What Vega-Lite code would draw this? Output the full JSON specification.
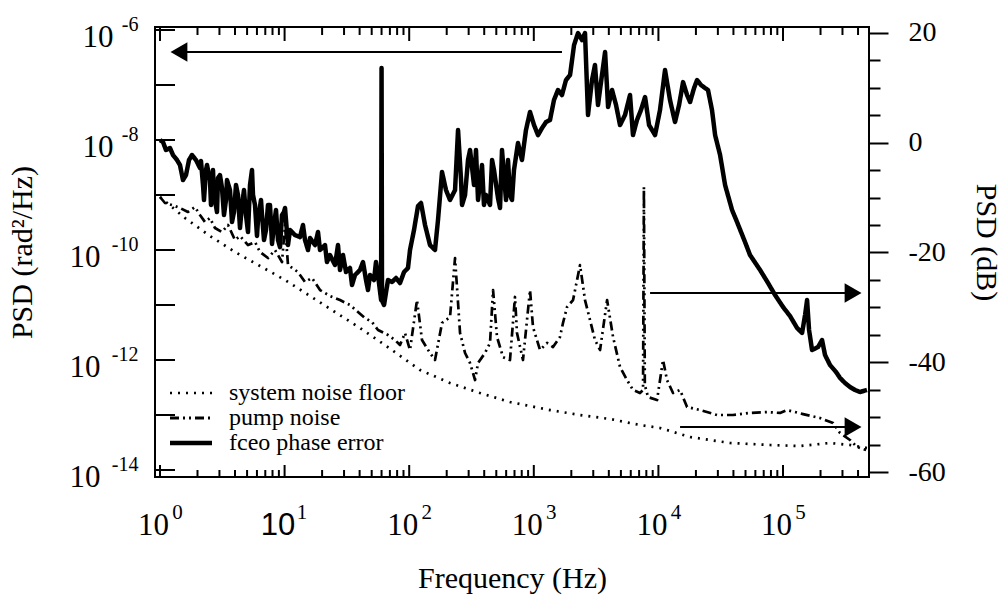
{
"$schema": "https://vega.github.io/schema/vega-lite/v6.json",
"width": 714, "height": 450,
"autosize": {"type": "none"},
"padding": {"left": 155, "top": 27, "right": 133, "bottom": 126},
"background": "white",
"config": {
  "view": {"stroke": "black", "strokeWidth": 2},
  "axis": {"domain": false, "grid": false, "tickColor": "black", "tickWidth": 2, "labelFont": "Liberation Serif", "labelColor": "black", "labelFontSize": 31, "titleFont": "Liberation Serif", "titleFontWeight": "normal", "titleColor": "black", "titleFontSize": 30, "labelOverlap": false, "labelFlush": false}
},
"datasets": {
  "curves": [
{"s":"fceo phase error","f":1,"p":1e-8},{"s":"fceo phase error","f":1.057,"p":9.2e-9},{"s":"fceo phase error","f":1.117,"p":6.58e-9},{"s":"fceo phase error","f":1.203,"p":7.16e-9},{"s":"fceo phase error","f":1.272,"p":5.34e-9},{"s":"fceo phase error","f":1.369,"p":4.33e-9},{"s":"fceo phase error","f":1.447,"p":3.51e-9},{"s":"fceo phase error","f":1.53,"p":1.87e-9},{"s":"fceo phase error","f":1.617,"p":2.31e-9},{"s":"fceo phase error","f":1.71,"p":4.33e-9},{"s":"fceo phase error","f":1.806,"p":5.34e-9},{"s":"fceo phase error","f":1.945,"p":4.33e-9},{"s":"fceo phase error","f":2.094,"p":3.1e-9},{"s":"fceo phase error","f":2.133,"p":4.15e-9},{"s":"fceo phase error","f":2.214,"p":1.52e-9},{"s":"fceo phase error","f":2.255,"p":8.11e-10},{"s":"fceo phase error","f":2.34,"p":2.85e-9},{"s":"fceo phase error","f":2.384,"p":3.51e-9},{"s":"fceo phase error","f":2.519,"p":1.87e-9},{"s":"fceo phase error","f":2.567,"p":6.58e-10},{"s":"fceo phase error","f":2.663,"p":2.85e-9},{"s":"fceo phase error","f":2.713,"p":1e-9},{"s":"fceo phase error","f":2.867,"p":4.91e-10},{"s":"fceo phase error","f":2.921,"p":2.04e-9},{"s":"fceo phase error","f":3.03,"p":2.31e-9},{"s":"fceo phase error","f":3.145,"p":1.34e-9},{"s":"fceo phase error","f":3.264,"p":4.33e-10},{"s":"fceo phase error","f":3.386,"p":8.11e-10},{"s":"fceo phase error","f":3.45,"p":1.87e-9},{"s":"fceo phase error","f":3.646,"p":1.23e-9},{"s":"fceo phase error","f":3.784,"p":3.23e-10},{"s":"fceo phase error","f":3.926,"p":4.91e-10},{"s":"fceo phase error","f":4.074,"p":1.52e-9},{"s":"fceo phase error","f":4.227,"p":1e-9},{"s":"fceo phase error","f":4.387,"p":2.51e-10},{"s":"fceo phase error","f":4.551,"p":6.58e-10},{"s":"fceo phase error","f":4.723,"p":1.23e-9},{"s":"fceo phase error","f":4.9,"p":4.33e-10},{"s":"fceo phase error","f":5.086,"p":2.12e-10},{"s":"fceo phase error","f":5.277,"p":1.52e-9},{"s":"fceo phase error","f":5.476,"p":2.85e-9},{"s":"fceo phase error","f":5.578,"p":1e-9},{"s":"fceo phase error","f":5.788,"p":6.58e-10},{"s":"fceo phase error","f":6.005,"p":1.8e-10},{"s":"fceo phase error","f":6.116,"p":3.51e-10},{"s":"fceo phase error","f":6.466,"p":8.11e-10},{"s":"fceo phase error","f":6.589,"p":4.33e-10},{"s":"fceo phase error","f":6.835,"p":1.52e-10},{"s":"fceo phase error","f":7.093,"p":2.31e-10},{"s":"fceo phase error","f":7.359,"p":6.58e-10},{"s":"fceo phase error","f":7.637,"p":6.58e-10},{"s":"fceo phase error","f":7.924,"p":1.29e-10},{"s":"fceo phase error","f":8.222,"p":2.85e-10},{"s":"fceo phase error","f":8.531,"p":5.34e-10},{"s":"fceo phase error","f":8.853,"p":1.52e-10},{"s":"fceo phase error","f":9.186,"p":1.13e-10},{"s":"fceo phase error","f":9.532,"p":4.33e-10},{"s":"fceo phase error","f":9.89,"p":4.91e-10},{"s":"fceo phase error","f":10.08,"p":5.81e-10},{"s":"fceo phase error","f":10.65,"p":1.23e-10},{"s":"fceo phase error","f":11.05,"p":2.31e-10},{"s":"fceo phase error","f":12.12,"p":1.87e-10},{"s":"fceo phase error","f":13.29,"p":1.72e-10},{"s":"fceo phase error","f":14.05,"p":2.85e-10},{"s":"fceo phase error","f":14.58,"p":1.52e-10},{"s":"fceo phase error","f":15.41,"p":1e-10},{"s":"fceo phase error","f":16.0,"p":1.65e-10},{"s":"fceo phase error","f":17.54,"p":1.23e-10},{"s":"fceo phase error","f":18.54,"p":2.12e-10},{"s":"fceo phase error","f":19.24,"p":1e-10},{"s":"fceo phase error","f":21.1,"p":1.23e-10},{"s":"fceo phase error","f":21.88,"p":6.05e-11},{"s":"fceo phase error","f":23.14,"p":8.11e-11},{"s":"fceo phase error","f":25.39,"p":5.34e-11},{"s":"fceo phase error","f":26.83,"p":1.23e-10},{"s":"fceo phase error","f":27.84,"p":4.33e-11},{"s":"fceo phase error","f":29.43,"p":8.11e-11},{"s":"fceo phase error","f":31.11,"p":3.98e-11},{"s":"fceo phase error","f":33.49,"p":4.71e-11},{"s":"fceo phase error","f":34.75,"p":2.31e-11},{"s":"fceo phase error","f":36.74,"p":3.51e-11},{"s":"fceo phase error","f":40.29,"p":4.33e-11},{"s":"fceo phase error","f":42.59,"p":6.05e-11},{"s":"fceo phase error","f":45.02,"p":2.85e-11},{"s":"fceo phase error","f":46.7,"p":1.87e-11},{"s":"fceo phase error","f":48.47,"p":3.51e-11},{"s":"fceo phase error","f":52.2,"p":2.85e-11},{"s":"fceo phase error","f":54.15,"p":6.05e-11},{"s":"fceo phase error","f":56.2,"p":3.51e-11},{"s":"fceo phase error","f":59.5,"p":1.23e-11},{"s":"fceo phase error","f":60,"p":2.04e-7},{"s":"fceo phase error","f":60.5,"p":1.2e-11},{"s":"fceo phase error","f":62.8,"p":1e-11},{"s":"fceo phase error","f":67.6,"p":2.85e-11},{"s":"fceo phase error","f":72.8,"p":2.62e-11},{"s":"fceo phase error","f":78.4,"p":3.1e-11},{"s":"fceo phase error","f":84.4,"p":2.51e-11},{"s":"fceo phase error","f":90.9,"p":3.98e-11},{"s":"fceo phase error","f":97.8,"p":4.71e-11},{"s":"fceo phase error","f":101.5,"p":1e-10},{"s":"fceo phase error","f":109.3,"p":2.31e-10},{"s":"fceo phase error","f":117.7,"p":6.31e-10},{"s":"fceo phase error","f":124.4,"p":7.16e-10},{"s":"fceo phase error","f":134,"p":2.85e-10},{"s":"fceo phase error","f":146.9,"p":1.23e-10},{"s":"fceo phase error","f":161.1,"p":1e-10},{"s":"fceo phase error","f":170.3,"p":3.51e-10},{"s":"fceo phase error","f":183.4,"p":2.62e-9},{"s":"fceo phase error","f":197.4,"p":1.23e-9},{"s":"fceo phase error","f":212.6,"p":8.11e-10},{"s":"fceo phase error","f":233.3,"p":1.23e-9},{"s":"fceo phase error","f":246.6,"p":1.52e-8},{"s":"fceo phase error","f":260.7,"p":1.87e-9},{"s":"fceo phase error","f":265.5,"p":6.58e-10},{"s":"fceo phase error","f":280.7,"p":1e-9},{"s":"fceo phase error","f":296.5,"p":4.33e-9},{"s":"fceo phase error","f":307.8,"p":6.58e-9},{"s":"fceo phase error","f":331.4,"p":1.52e-9},{"s":"fceo phase error","f":343.6,"p":6.58e-9},{"s":"fceo phase error","f":356.8,"p":8.11e-10},{"s":"fceo phase error","f":384.1,"p":3.51e-9},{"s":"fceo phase error","f":398.1,"p":6.58e-10},{"s":"fceo phase error","f":413.5,"p":1e-9},{"s":"fceo phase error","f":445.2,"p":6.58e-10},{"s":"fceo phase error","f":462.4,"p":4.33e-9},{"s":"fceo phase error","f":479.3,"p":2.85e-9},{"s":"fceo phase error","f":516,"p":8.81e-10},{"s":"fceo phase error","f":535.8,"p":5.81e-10},{"s":"fceo phase error","f":555.6,"p":6.58e-9},{"s":"fceo phase error","f":598.2,"p":8.11e-10},{"s":"fceo phase error","f":620.9,"p":4.33e-9},{"s":"fceo phase error","f":644,"p":1e-9},{"s":"fceo phase error","f":668.4,"p":8.11e-10},{"s":"fceo phase error","f":693.4,"p":2.85e-9},{"s":"fceo phase error","f":746.5,"p":8.81e-9},{"s":"fceo phase error","f":803.6,"p":4.33e-9},{"s":"fceo phase error","f":865.2,"p":1.52e-8},{"s":"fceo phase error","f":932.5,"p":3.23e-8},{"s":"fceo phase error","f":1004,"p":1.87e-8},{"s":"fceo phase error","f":1081,"p":1.23e-8},{"s":"fceo phase error","f":1164,"p":1.65e-8},{"s":"fceo phase error","f":1253,"p":2.12e-8},{"s":"fceo phase error","f":1349,"p":2.31e-8},{"s":"fceo phase error","f":1452,"p":5.34e-8},{"s":"fceo phase error","f":1563,"p":8.11e-8},{"s":"fceo phase error","f":1683,"p":6.58e-8},{"s":"fceo phase error","f":1812,"p":1.23e-7},{"s":"fceo phase error","f":1954,"p":1.52e-7},{"s":"fceo phase error","f":2104,"p":5.34e-7},{"s":"fceo phase error","f":2265,"p":8.81e-7},{"s":"fceo phase error","f":2438,"p":6.58e-7},{"s":"fceo phase error","f":2576,"p":8.81e-7},{"s":"fceo phase error","f":2723,"p":2.85e-8},{"s":"fceo phase error","f":2931,"p":1.23e-7},{"s":"fceo phase error","f":3097,"p":2.31e-7},{"s":"fceo phase error","f":3275,"p":4.33e-8},{"s":"fceo phase error","f":3524,"p":1.52e-7},{"s":"fceo phase error","f":3733,"p":3.98e-7},{"s":"fceo phase error","f":3945,"p":3.98e-8},{"s":"fceo phase error","f":4246,"p":8.11e-8},{"s":"fceo phase error","f":4571,"p":4.33e-8},{"s":"fceo phase error","f":4920,"p":1.87e-8},{"s":"fceo phase error","f":5395,"p":2.85e-8},{"s":"fceo phase error","f":5918,"p":6.58e-8},{"s":"fceo phase error","f":6252,"p":1.23e-8},{"s":"fceo phase error","f":6730,"p":2.31e-8},{"s":"fceo phase error","f":7244,"p":3.51e-8},{"s":"fceo phase error","f":7816,"p":6.05e-8},{"s":"fceo phase error","f":8414,"p":1.87e-8},{"s":"fceo phase error","f":9398,"p":1.23e-8},{"s":"fceo phase error","f":10300,"p":3.51e-8},{"s":"fceo phase error","f":11300,"p":1.87e-7},{"s":"fceo phase error","f":12390,"p":5.34e-8},{"s":"fceo phase error","f":13590,"p":2.12e-8},{"s":"fceo phase error","f":14650,"p":4.33e-8},{"s":"fceo phase error","f":15770,"p":1.13e-7},{"s":"fceo phase error","f":16980,"p":6.58e-8},{"s":"fceo phase error","f":17950,"p":4.91e-8},{"s":"fceo phase error","f":19320,"p":8.81e-8},{"s":"fceo phase error","f":20420,"p":1.23e-7},{"s":"fceo phase error","f":21980,"p":1e-7},{"s":"fceo phase error","f":23660,"p":8.81e-8},{"s":"fceo phase error","f":25000,"p":8.11e-8},{"s":"fceo phase error","f":26920,"p":3.51e-8},{"s":"fceo phase error","f":28510,"p":1.23e-8},{"s":"fceo phase error","f":31260,"p":5.34e-9},{"s":"fceo phase error","f":34280,"p":1.52e-9},{"s":"fceo phase error","f":39000,"p":5.34e-10},{"s":"fceo phase error","f":42760,"p":3.23e-10},{"s":"fceo phase error","f":49550,"p":1.4e-10},{"s":"fceo phase error","f":54330,"p":8.11e-11},{"s":"fceo phase error","f":65460,"p":4.33e-11},{"s":"fceo phase error","f":75860,"p":2.51e-11},{"s":"fceo phase error","f":86300,"p":1.52e-11},{"s":"fceo phase error","f":100000,"p":9.2e-12},{"s":"fceo phase error","f":113800,"p":6.31e-12},{"s":"fceo phase error","f":129700,"p":3.82e-12},{"s":"fceo phase error","f":142200,"p":3.1e-12},{"s":"fceo phase error","f":150300,"p":6.58e-12},{"s":"fceo phase error","f":156000,"p":1.23e-11},{"s":"fceo phase error","f":161800,"p":3.51e-12},{"s":"fceo phase error","f":171000,"p":1.52e-12},{"s":"fceo phase error","f":191000,"p":1.72e-12},{"s":"fceo phase error","f":205700,"p":2.31e-12},{"s":"fceo phase error","f":217400,"p":1.23e-12},{"s":"fceo phase error","f":238400,"p":8.11e-13},{"s":"fceo phase error","f":266400,"p":6.05e-13},{"s":"fceo phase error","f":286800,"p":4.71e-13},{"s":"fceo phase error","f":314500,"p":3.82e-13},{"s":"fceo phase error","f":344900,"p":3.23e-13},{"s":"fceo phase error","f":378300,"p":2.85e-13},{"s":"fceo phase error","f":414900,"p":2.62e-13},{"s":"fceo phase error","f":472000,"p":2.85e-13},
{"s":"pump noise","f":1,"p":9.2e-10},{"s":"pump noise","f":1.097,"p":7.16e-10},{"s":"pump noise","f":1.248,"p":6.58e-10},{"s":"pump noise","f":1.447,"p":5.81e-10},{"s":"pump noise","f":1.678,"p":4.91e-10},{"s":"pump noise","f":1.909,"p":6.05e-10},{"s":"pump noise","f":2.094,"p":4.33e-10},{"s":"pump noise","f":2.297,"p":3.23e-10},{"s":"pump noise","f":2.519,"p":3.82e-10},{"s":"pump noise","f":2.764,"p":2.51e-10},{"s":"pump noise","f":3.145,"p":2.12e-10},{"s":"pump noise","f":3.515,"p":2.85e-10},{"s":"pump noise","f":4.0,"p":1.52e-10},{"s":"pump noise","f":4.387,"p":1.8e-10},{"s":"pump noise","f":5.086,"p":1.23e-10},{"s":"pump noise","f":5.788,"p":1.4e-10},{"s":"pump noise","f":6.347,"p":9.2e-11},{"s":"pump noise","f":7.359,"p":7.16e-11},{"s":"pump noise","f":8.375,"p":1e-10},{"s":"pump noise","f":9.532,"p":6.05e-11},{"s":"pump noise","f":10.08,"p":2.85e-10},{"s":"pump noise","f":10.65,"p":5.34e-11},{"s":"pump noise","f":12.81,"p":3.98e-11},{"s":"pump noise","f":14.58,"p":2.62e-11},{"s":"pump noise","f":16.59,"p":3.1e-11},{"s":"pump noise","f":19.24,"p":1.87e-11},{"s":"pump noise","f":23.14,"p":1.46e-11},{"s":"pump noise","f":27.84,"p":1.23e-11},{"s":"pump noise","f":33.49,"p":1e-11},{"s":"pump noise","f":38.82,"p":7.46e-12},{"s":"pump noise","f":44.18,"p":5.81e-12},{"s":"pump noise","f":50.29,"p":4.91e-12},{"s":"pump noise","f":56.2,"p":3.51e-12},{"s":"pump noise","f":67.6,"p":2.85e-12},{"s":"pump noise","f":76.9,"p":2.31e-12},{"s":"pump noise","f":84.4,"p":1.87e-12},{"s":"pump noise","f":92.5,"p":3.1e-12},{"s":"pump noise","f":101.5,"p":1.52e-12},{"s":"pump noise","f":115.5,"p":1.23e-11},{"s":"pump noise","f":126.7,"p":2.31e-12},{"s":"pump noise","f":146.9,"p":1.34e-12},{"s":"pump noise","f":161.1,"p":1e-12},{"s":"pump noise","f":183.4,"p":4.71e-12},{"s":"pump noise","f":212.6,"p":6.05e-12},{"s":"pump noise","f":233.3,"p":7.16e-11},{"s":"pump noise","f":246.6,"p":1.09e-11},{"s":"pump noise","f":255.9,"p":3.1e-12},{"s":"pump noise","f":280.7,"p":1.34e-12},{"s":"pump noise","f":307.8,"p":8.81e-13},{"s":"pump noise","f":337.6,"p":4.33e-13},{"s":"pump noise","f":356.8,"p":8.81e-13},{"s":"pump noise","f":405.7,"p":1.34e-12},{"s":"pump noise","f":445.2,"p":2.04e-12},{"s":"pump noise","f":470.9,"p":1.87e-11},{"s":"pump noise","f":506.7,"p":2.62e-12},{"s":"pump noise","f":566.1,"p":1.13e-12},{"s":"pump noise","f":644,"p":1e-12},{"s":"pump noise","f":706.3,"p":1.4e-11},{"s":"pump noise","f":733,"p":3.1e-12},{"s":"pump noise","f":818.6,"p":1e-12},{"s":"pump noise","f":932.5,"p":1.87e-11},{"s":"pump noise","f":985.1,"p":3.98e-12},{"s":"pump noise","f":1122,"p":1.52e-12},{"s":"pump noise","f":1277,"p":2.04e-12},{"s":"pump noise","f":1426,"p":1.72e-12},{"s":"pump noise","f":1622,"p":2.62e-12},{"s":"pump noise","f":1715,"p":4.71e-12},{"s":"pump noise","f":1848,"p":9.2e-12},{"s":"pump noise","f":2065,"p":1.23e-11},{"s":"pump noise","f":2350,"p":5.34e-11},{"s":"pump noise","f":2576,"p":1.23e-11},{"s":"pump noise","f":2825,"p":5.34e-12},{"s":"pump noise","f":3097,"p":2.31e-12},{"s":"pump noise","f":3402,"p":1.52e-12},{"s":"pump noise","f":3873,"p":1.23e-11},{"s":"pump noise","f":4325,"p":2.62e-12},{"s":"pump noise","f":4920,"p":7.46e-13},{"s":"pump noise","f":5598,"p":4.33e-13},{"s":"pump noise","f":6252,"p":2.85e-13},{"s":"pump noise","f":7112,"p":2.51e-13},{"s":"pump noise","f":7528,"p":2.85e-13},{"s":"pump noise","f":7650,"p":1.4e-9},{"s":"pump noise","f":7780,"p":3.5e-13},{"s":"pump noise","f":8260,"p":2.12e-13},{"s":"pump noise","f":9750,"p":1.87e-13},{"s":"pump noise","f":10890,"p":1e-12},{"s":"pump noise","f":11720,"p":4.33e-13},{"s":"pump noise","f":13100,"p":2.51e-13},{"s":"pump noise","f":14920,"p":2.85e-13},{"s":"pump noise","f":16980,"p":1.4e-13},{"s":"pump noise","f":21600,"p":1.23e-13},{"s":"pump noise","f":29560,"p":1e-13},{"s":"pump noise","f":39720,"p":1e-13},{"s":"pump noise","f":54330,"p":1.09e-13},{"s":"pump noise","f":74450,"p":1.13e-13},{"s":"pump noise","f":94620,"p":1.09e-13},{"s":"pump noise","f":107700,"p":1.23e-13},{"s":"pump noise","f":144900,"p":1.04e-13},{"s":"pump noise","f":198200,"p":8.81e-14},{"s":"pump noise","f":252200,"p":7.16e-14},{"s":"pump noise","f":286800,"p":4.71e-14},{"s":"pump noise","f":344900,"p":3.51e-14},{"s":"pump noise","f":392800,"p":2.62e-14},{"s":"pump noise","f":464200,"p":2.31e-14},
{"s":"system noise floor","f":1,"p":9.2e-10},{"s":"system noise floor","f":1.587,"p":3.82e-10},{"s":"system noise floor","f":2.519,"p":1.8e-10},{"s":"system noise floor","f":4.0,"p":9.2e-11},{"s":"system noise floor","f":6.347,"p":5.12e-11},{"s":"system noise floor","f":10.08,"p":2.85e-11},{"s":"system noise floor","f":16.0,"p":1.46e-11},{"s":"system noise floor","f":25.39,"p":7.46e-12},{"s":"system noise floor","f":40.29,"p":3.82e-12},{"s":"system noise floor","f":63.9,"p":1.87e-12},{"s":"system noise floor","f":122.1,"p":6.58e-13},{"s":"system noise floor","f":212.6,"p":3.82e-13},{"s":"system noise floor","f":370.3,"p":2.51e-13},{"s":"system noise floor","f":644,"p":1.72e-13},{"s":"system noise floor","f":1349,"p":1.23e-13},{"s":"system noise floor","f":2350,"p":1e-13},{"s":"system noise floor","f":4093,"p":8.46e-14},{"s":"system noise floor","f":7112,"p":6.58e-14},{"s":"system noise floor","f":10300,"p":5.81e-14},{"s":"system noise floor","f":17950,"p":3.98e-14},{"s":"system noise floor","f":37580,"p":3.1e-14},{"s":"system noise floor","f":78700,"p":2.85e-14},{"s":"system noise floor","f":137100,"p":2.73e-14},{"s":"system noise floor","f":238400,"p":3.1e-14},{"s":"system noise floor","f":344900,"p":2.85e-14},{"s":"system noise floor","f":472000,"p":2.51e-14}
  ],
  "dummy": [{"f": 10, "db": 0, "p": 1e-10}],
  "xmajor": [{"v":1},{"v":10},{"v":100},{"v":1000},{"v":10000},{"v":100000}],
  "xminor": [{"v":2},{"v":3},{"v":4},{"v":5},{"v":6},{"v":7},{"v":8},{"v":9},
    {"v":20},{"v":30},{"v":40},{"v":50},{"v":60},{"v":70},{"v":80},{"v":90},
    {"v":200},{"v":300},{"v":400},{"v":500},{"v":600},{"v":700},{"v":800},{"v":900},
    {"v":2000},{"v":3000},{"v":4000},{"v":5000},{"v":6000},{"v":7000},{"v":8000},{"v":9000},
    {"v":20000},{"v":30000},{"v":40000},{"v":50000},{"v":60000},{"v":70000},{"v":80000},{"v":90000},
    {"v":200000},{"v":300000},{"v":400000}],
  "yticks": [{"v":1e-14},{"v":1e-13},{"v":1e-12},{"v":1e-11},{"v":1e-10},{"v":1e-9},{"v":1e-8},{"v":1e-7},{"v":1e-6}],
  "arrows": [{"f1": 1.42, "f2": 1683, "p": 3.98e-7}, {"f1": 8570, "f2": 365000, "p": 1.65e-11}, {"f1": 14920, "f2": 365000, "p": 6.05e-14}],
  "heads": [{"f": 1.42, "p": 3.98e-7, "d": "l"}, {"f": 365000, "p": 1.65e-11, "d": "r"}, {"f": 365000, "p": 6.05e-14, "d": "r"}]
},
"resolve": {"scale": {"y": "independent"}, "axis": {"x": "independent", "y": "independent"}},
"layer": [
  {
    "data": {"name": "curves"},
    "mark": {"type": "line", "stroke": "black", "strokeJoin": "round", "clip": true},
    "encoding": {
      "x": {"field": "f", "type": "quantitative", "scale": {"type": "log", "domain": [0.912, 489800], "nice": false},
        "axis": {"orient": "bottom", "values": [1, 10, 100, 1000, 10000, 100000], "ticks": false, "labelPadding": 33, "labelOffset": -7,
          "labelExpr": "'10'", "labelFont": {"condition": {"test": "datum.value == 10", "value": "Liberation Sans"}, "value": "Liberation Serif"},
          "title": "Frequency (Hz)", "titleY": 101, "titleBaseline": "middle"}},
      "y": {"field": "p", "type": "quantitative", "scale": {"type": "log", "domain": [7.46e-15, 1.135e-6], "nice": false},
        "axis": {"orient": "left", "values": [1e-8, 1e-6], "ticks": false, "labelPadding": 42, "labelOffset": 7,
          "labelExpr": "'10'", "title": "PSD (rad²/Hz)", "titleX": -133, "titleBaseline": "middle"}},
      "strokeDash": {"field": "s", "type": "nominal",
        "scale": {"domain": ["system noise floor", "pump noise", "fceo phase error"], "range": [[2, 6], [9, 4, 2, 4, 2, 4], [1, 0]]},
        "legend": {"title": null, "orient": "none", "legendX": 10, "legendY": 354, "padding": 0, "labelFont": "Liberation Serif", "labelFontSize": 24, "labelColor": "black", "labelLimit": 0,
          "symbolType": "M-1,0H5", "symbolSize": 196, "symbolStrokeColor": "black", "symbolStrokeWidth": 3, "labelOffset": 40, "rowPadding": 1,
          "encode": {"symbols": {"update": {"strokeWidth": {"signal": "datum.value === 'fceo phase error' ? 4.5 : datum.value === 'pump noise' ? 3 : 2.5"}}}}}},
      "strokeWidth": {"condition": {"test": "datum.s === 'fceo phase error'", "value": 4.5}, "value": 2.7}
    }
  },
  {
    "data": {"name": "dummy"},
    "mark": {"type": "point", "opacity": 0},
    "encoding": {
      "x": {"field": "f", "type": "quantitative", "scale": {"type": "log", "domain": [0.912, 489800], "nice": false}, "axis": null},
      "y": {"field": "db", "type": "quantitative", "scale": {"domain": [-60.91, 21.09], "nice": false, "zero": false},
        "axis": {"orient": "right", "values": [-60, -40, -20, 0, 20], "tickSize": 19, "labelPadding": 20, "labelFontSize": 28, "labelExpr": "'' + datum.value", "title": "PSD (dB)", "titleX": 116, "titleY": 215, "titleBaseline": "middle"}}
    }
  },
  {
    "data": {"name": "dummy"},
    "mark": {"type": "point", "opacity": 0},
    "encoding": {
      "x": {"field": "f", "type": "quantitative", "scale": {"type": "log", "domain": [0.912, 489800], "nice": false}, "axis": null},
      "y": {"field": "db", "type": "quantitative", "scale": {"domain": [-60.91, 21.09], "nice": false, "zero": false},
        "axis": {"orient": "right", "values": [-55, -50, -45, -35, -30, -25, -15, -10, -5, 5, 10, 15], "tickSize": 11, "labels": false, "title": null}}
    }
  },
  {
    "data": {"name": "dummy"},
    "mark": {"type": "point", "opacity": 0},
    "encoding": {
      "x": {"field": "f", "type": "quantitative", "scale": {"type": "log", "domain": [0.912, 489800], "nice": false}, "axis": null},
      "y": {"field": "p", "type": "quantitative", "scale": {"type": "log", "domain": [7.46e-15, 1.135e-6], "nice": false},
        "axis": {"orient": "left", "values": [1e-14, 1e-12, 1e-10], "ticks": false, "labelPadding": 55, "labelOffset": 7, "labelExpr": "'10'", "title": null}}
    }
  },
  {
    "data": {"name": "dummy"},
    "mark": {"type": "point", "opacity": 0},
    "encoding": {
      "x": {"field": "f", "type": "quantitative", "scale": {"type": "log", "domain": [0.912, 489800], "nice": false},
        "axis": {"orient": "bottom", "values": [1, 10, 100, 1000, 10000, 100000], "ticks": false, "labelPadding": 24, "labelOffset": 17, "labelFontSize": 21,
          "labelExpr": "'' + round(log(datum.value)/LN10)", "title": null}},
      "y": {"field": "p", "type": "quantitative", "scale": {"type": "log", "domain": [7.46e-15, 1.135e-6], "nice": false},
        "axis": {"orient": "left", "values": [1e-14, 1e-12, 1e-10, 1e-8, 1e-6], "ticks": false, "labelPadding": 17, "labelOffset": -6, "labelFontSize": 20,
          "labelExpr": "'-' + abs(round(log(datum.value)/LN10))", "title": null}}
    }
  },
  {
    "data": {"name": "xmajor"},
    "mark": {"type": "rule", "stroke": "black", "strokeWidth": 2},
    "encoding": {
      "x": {"field": "v", "type": "quantitative", "scale": {"type": "log", "domain": [0.912, 489800], "nice": false}, "axis": null},
      "y": {"datum": 7.46e-15, "type": "quantitative", "scale": {"type": "log", "domain": [7.46e-15, 1.135e-6], "nice": false}, "axis": null},
      "y2": {"datum": 1.233e-14}
    }
  },
  {
    "data": {"name": "xminor"},
    "mark": {"type": "rule", "stroke": "black", "strokeWidth": 2},
    "encoding": {
      "x": {"field": "v", "type": "quantitative", "scale": {"type": "log", "domain": [0.912, 489800], "nice": false}, "axis": null},
      "y": {"datum": 7.46e-15, "type": "quantitative", "scale": {"type": "log", "domain": [7.46e-15, 1.135e-6], "nice": false}, "axis": null},
      "y2": {"datum": 1.0e-14}
    }
  },
  {
    "data": {"name": "xmajor"},
    "mark": {"type": "rule", "stroke": "black", "strokeWidth": 2},
    "encoding": {
      "x": {"field": "v", "type": "quantitative", "scale": {"type": "log", "domain": [0.912, 489800], "nice": false}, "axis": null},
      "y": {"datum": 1.135e-6, "type": "quantitative", "scale": {"type": "log", "domain": [7.46e-15, 1.135e-6], "nice": false}, "axis": null},
      "y2": {"datum": 6.32e-7}
    }
  },
  {
    "data": {"name": "xminor"},
    "mark": {"type": "rule", "stroke": "black", "strokeWidth": 2},
    "encoding": {
      "x": {"field": "v", "type": "quantitative", "scale": {"type": "log", "domain": [0.912, 489800], "nice": false}, "axis": null},
      "y": {"datum": 1.135e-6, "type": "quantitative", "scale": {"type": "log", "domain": [7.46e-15, 1.135e-6], "nice": false}, "axis": null},
      "y2": {"datum": 8.12e-7}
    }
  },
  {
    "data": {"name": "yticks"},
    "mark": {"type": "rule", "stroke": "black", "strokeWidth": 2},
    "encoding": {
      "x": {"datum": 0.912, "type": "quantitative", "scale": {"type": "log", "domain": [0.912, 489800], "nice": false}, "axis": null},
      "x2": {"datum": 1.32},
      "y": {"field": "v", "type": "quantitative", "scale": {"type": "log", "domain": [7.46e-15, 1.135e-6], "nice": false}, "axis": null}
    }
  },
  {
    "data": {"name": "arrows"},
    "mark": {"type": "rule", "stroke": "black", "strokeWidth": 2},
    "encoding": {
      "x": {"field": "f1", "type": "quantitative", "scale": {"type": "log", "domain": [0.912, 489800], "nice": false}, "axis": null},
      "x2": {"field": "f2"},
      "y": {"field": "p", "type": "quantitative", "scale": {"type": "log", "domain": [7.46e-15, 1.135e-6], "nice": false}, "axis": null}
    }
  },
  {
    "data": {"name": "heads"},
    "mark": {"type": "point", "filled": true, "color": "black", "opacity": 1, "size": 380, "strokeWidth": 0},
    "encoding": {
      "x": {"field": "f", "type": "quantitative", "scale": {"type": "log", "domain": [0.912, 489800], "nice": false}, "axis": null},
      "y": {"field": "p", "type": "quantitative", "scale": {"type": "log", "domain": [7.46e-15, 1.135e-6], "nice": false}, "axis": null},
      "shape": {"field": "d", "type": "nominal", "scale": {"domain": ["l", "r"], "range": ["triangle-left", "triangle-right"]}, "legend": null}
    }
  }
]
}
